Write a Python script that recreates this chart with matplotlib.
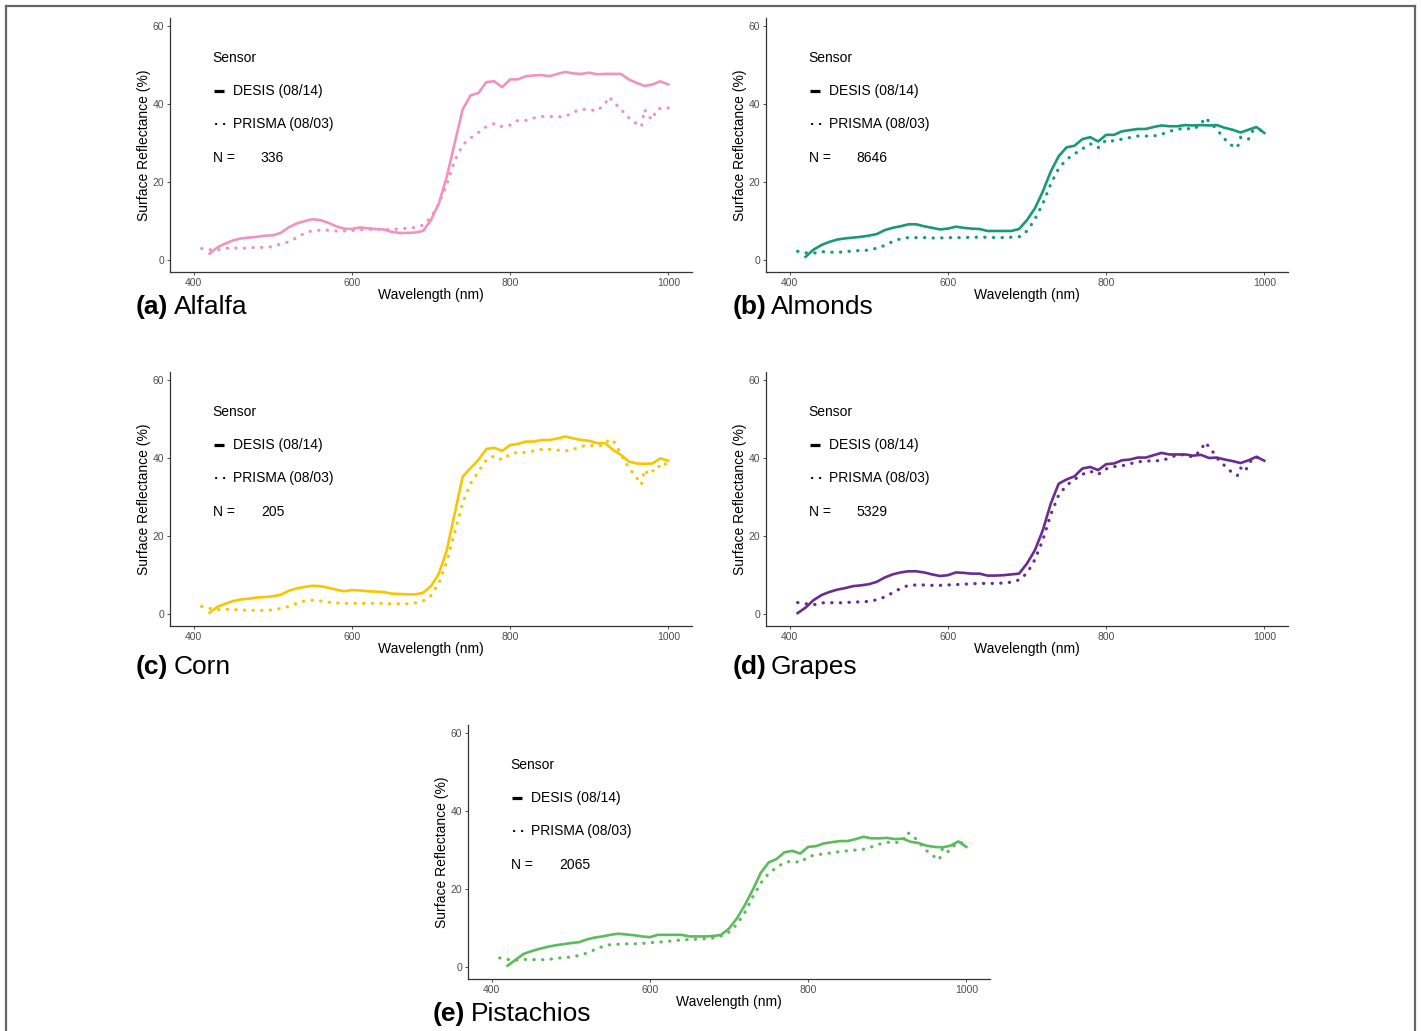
import matplotlib
matplotlib.use('Agg')
import matplotlib.pyplot as plt
from matplotlib.lines import Line2D

plt.rcParams['font.family'] = ['Liberation Sans', 'DejaVu Sans']

# Wavelength grids (nm)
DESIS_WL = list(range(420, 1001, 10))
GRAPES_DESIS_WL = [410] + DESIS_WL
PRISMA_WL = [410, 420, 430, 440, 450, 460, 470, 480, 490, 500, 510, 520, 530, 540,
             550, 560, 570, 580, 590, 600, 610, 620, 630, 640, 650, 660, 670, 680,
             690, 700, 710, 720, 730, 740, 750, 760, 770, 780, 790, 800, 810, 820,
             830, 840, 850, 860, 870, 880, 890, 900, 910, 920, 925, 932, 940, 950,
             958, 966, 970, 975, 980, 985, 993, 1000]

# Surface reflectance (%)
alfalfa_desis = [1.7, 3.3, 4.3, 5.1, 5.6, 5.8, 6.0, 6.3, 6.4, 7.0, 8.4, 9.4, 10.0, 10.5,
                 10.3, 9.6, 8.7, 8.1, 8.0, 8.4, 8.2, 8.0, 7.9, 7.3, 7.0, 7.0, 7.1, 7.5,
                 10.3, 14.6, 21.4, 30.0, 38.6, 42.2, 42.8, 45.6, 45.8, 44.3, 46.3, 46.3,
                 47.1, 47.3, 47.4, 47.1, 47.7, 48.2, 47.8, 47.7, 48.0, 47.6, 47.7, 47.7,
                 47.7, 46.3, 45.4, 44.6, 45.0, 45.8, 45.0]
alfalfa_prisma = [3.0, 2.7, 2.6, 3.1, 3.2, 3.0, 3.2, 3.3, 3.3, 3.5, 4.2, 4.7, 5.8, 6.9,
                  7.6, 7.7, 7.7, 7.5, 7.5, 7.6, 7.8, 7.9, 7.9, 7.9, 7.9, 8.0, 8.2, 8.4,
                  9.0, 11.0, 14.5, 19.5, 25.5, 29.5, 31.3, 32.7, 34.2, 35.0, 34.2, 34.6,
                  35.8, 35.8, 36.4, 36.8, 36.8, 36.7, 36.8, 37.9, 38.6, 38.6, 38.2, 40.0,
                  41.8, 40.3, 38.6, 36.5, 35.2, 34.2, 38.6, 36.8, 36.0, 38.6, 39.0, 39.0]

almonds_desis = [0.9, 2.7, 3.9, 4.7, 5.3, 5.6, 5.8, 6.0, 6.3, 6.7, 7.7, 8.3, 8.7, 9.2,
                 9.2, 8.7, 8.3, 7.9, 8.1, 8.6, 8.3, 8.1, 8.0, 7.5, 7.5, 7.5, 7.5, 8.0,
                 10.3, 13.3, 17.6, 22.7, 26.6, 28.9, 29.3, 31.0, 31.5, 30.4, 32.1, 32.1,
                 33.0, 33.3, 33.6, 33.6, 34.1, 34.5, 34.3, 34.3, 34.6, 34.5, 34.6, 34.5,
                 34.6, 33.9, 33.4, 32.7, 33.4, 34.1, 32.6]
almonds_prisma = [2.3, 1.9, 1.8, 2.2, 2.1, 2.0, 2.2, 2.4, 2.5, 2.6, 3.1, 3.8, 4.8, 5.5,
                  5.8, 5.8, 5.8, 5.7, 5.7, 5.8, 5.8, 5.8, 5.9, 5.9, 5.9, 5.8, 5.8, 5.9,
                  6.0, 7.5, 10.5, 14.5, 19.5, 23.5, 25.8, 27.2, 28.5, 29.8, 28.8, 30.8,
                  30.5, 31.0, 31.4, 31.8, 31.8, 31.8, 32.2, 33.0, 33.5, 33.8, 33.5, 34.8,
                  36.5, 35.2, 33.5, 31.0, 29.5, 28.8, 31.5, 31.0, 31.0, 33.0, 33.5, 32.8]

corn_desis = [0.4, 1.9, 2.7, 3.4, 3.8, 4.0, 4.3, 4.4, 4.6, 5.0, 6.0, 6.6, 7.0, 7.3,
              7.2, 6.8, 6.3, 5.9, 6.2, 6.1, 5.9, 5.8, 5.7, 5.3, 5.2, 5.1, 5.1, 5.5,
              7.2, 10.4, 16.4, 25.8, 35.2, 37.4, 39.5, 42.3, 42.6, 41.8, 43.3, 43.6,
              44.2, 44.2, 44.6, 44.6, 45.0, 45.5, 45.0, 44.6, 44.4, 43.8, 43.8, 42.1,
              40.8, 39.1, 38.6, 38.5, 38.6, 39.9, 39.3]
corn_prisma = [2.0, 1.5, 1.2, 1.3, 1.2, 1.1, 1.0, 1.0, 1.0, 1.1, 1.5, 2.0, 2.8, 3.4,
               3.6, 3.4, 3.1, 2.9, 2.8, 2.8, 2.8, 2.8, 2.8, 2.8, 2.7, 2.7, 2.7, 2.9,
               3.4, 4.8, 8.0, 13.5, 21.0, 28.5, 33.5, 36.5, 39.5, 40.5, 39.5, 41.0,
               41.5, 41.4, 41.8, 42.2, 42.2, 42.0, 41.8, 42.2, 43.0, 43.2, 43.0, 43.5,
               44.8, 44.0, 41.0, 37.5, 35.5, 33.2, 37.0, 35.8, 36.5, 38.0, 37.5, 39.5]

grapes_desis = [0.3, 1.7, 3.6, 4.9, 5.7, 6.3, 6.7, 7.2, 7.4, 7.7, 8.3, 9.4, 10.2, 10.7,
                11.0, 11.0, 10.7, 10.2, 9.8, 10.0, 10.7, 10.6, 10.4, 10.4, 9.9, 9.9, 10.0,
                10.2, 10.4, 13.0, 16.4, 21.5, 28.3, 33.4, 34.5, 35.3, 37.3, 37.7, 36.9,
                38.4, 38.6, 39.4, 39.6, 40.1, 40.1, 40.7, 41.3, 40.9, 40.9, 40.9, 40.6,
                40.8, 40.0, 40.1, 39.6, 39.2, 38.7, 39.4, 40.3, 39.3]
grapes_prisma = [3.0, 2.7, 2.4, 2.9, 3.0, 2.9, 3.0, 3.1, 3.2, 3.3, 3.7, 4.4, 5.5, 6.6,
                 7.4, 7.5, 7.5, 7.4, 7.4, 7.5, 7.6, 7.7, 7.8, 7.9, 7.9, 7.9, 8.0, 8.2,
                 8.8, 10.5, 14.0, 19.0, 25.5, 30.5, 33.0, 34.5, 35.8, 36.6, 35.8, 37.2,
                 37.8, 38.0, 38.5, 39.0, 39.2, 39.3, 39.3, 40.0, 40.8, 40.8, 40.2, 42.0,
                 44.0, 42.5, 40.0, 38.0, 36.5, 35.5, 37.5, 36.5, 38.0, 40.0, 40.2, 39.5]

pistachios_desis = [0.4, 1.9, 3.4, 4.1, 4.7, 5.2, 5.6, 5.9, 6.2, 6.4, 7.1, 7.6, 7.9, 8.3,
                    8.6, 8.4, 8.2, 7.9, 7.7, 8.3, 8.3, 8.3, 8.3, 7.9, 7.9, 7.9, 8.0, 8.3,
                    9.9, 12.5, 15.9, 19.8, 24.1, 26.8, 27.7, 29.4, 29.8, 29.1, 30.8, 31.0,
                    31.7, 32.0, 32.3, 32.3, 32.8, 33.4, 33.0, 33.0, 33.1, 32.8, 32.9, 32.1,
                    31.8, 31.1, 30.8, 30.7, 31.1, 32.2, 30.8]
pistachios_prisma = [2.4, 2.0, 1.8, 2.0, 2.0, 1.9, 2.0, 2.2, 2.5, 2.6, 3.0, 3.6, 4.5, 5.3,
                     5.8, 5.9, 6.0, 6.0, 6.1, 6.3, 6.4, 6.6, 6.8, 7.0, 7.1, 7.2, 7.3, 7.5,
                     8.0, 9.0, 11.0, 14.0, 18.0, 21.5, 24.0, 25.5, 26.8, 27.2, 26.8, 28.3,
                     28.8, 29.0, 29.3, 29.6, 29.8, 30.0, 30.2, 30.8, 31.5, 32.0, 31.8, 32.5,
                     34.5, 33.8, 32.0, 29.8, 28.5, 27.5, 30.5, 29.5, 29.8, 31.2, 32.0, 31.0]

crops = ['Alfalfa', 'Almonds', 'Corn', 'Grapes', 'Pistachios']
letters = ['a', 'b', 'c', 'd', 'e']
sample_sizes = [336, 8646, 205, 5329, 2065]
colors = ['#F093BF', '#17997A', '#F7C600', '#6A2C91', '#5CBB5A']
desis_wl = [DESIS_WL, DESIS_WL, DESIS_WL, GRAPES_DESIS_WL, DESIS_WL]
desis_vals = [alfalfa_desis, almonds_desis, corn_desis, grapes_desis, pistachios_desis]
prisma_vals = [alfalfa_prisma, almonds_prisma, corn_prisma, grapes_prisma, pistachios_prisma]

W, H = 1421, 1031
fig = plt.figure(figsize=(W / 100, H / 100), dpi=100)
fig.patch.set_facecolor('white')

# axes boxes in pixels: left, top of axes
boxes = [(170, 18), (766, 18), (170, 372), (766, 372), (468, 725)]
captions = [(136, 307), (733, 307), (136, 667), (733, 667), (433, 1014)]
AX_W, AX_H = 522, 254

for i in range(5):
    left, top = boxes[i]
    ax = fig.add_axes([left / W, 1 - (top + AX_H) / H, AX_W / W, AX_H / H])
    ax.plot(desis_wl[i], desis_vals[i], color=colors[i], linewidth=1.9,
            solid_joinstyle='round')
    ax.plot(PRISMA_WL, prisma_vals[i], color=colors[i], linewidth=2.3,
            linestyle=(0, (0.1, 2.6)), dash_capstyle='round')
    ax.set_xlim(370, 1030)
    ax.set_ylim(-3, 62)
    ax.set_xticks([400, 600, 800, 1000])
    ax.set_yticks([0, 20, 40, 60])
    for side in ['top', 'right']:
        ax.spines[side].set_visible(False)
    for side in ['left', 'bottom']:
        ax.spines[side].set_color('#333333')
        ax.spines[side].set_linewidth(0.9)
    ax.tick_params(labelsize=7.5, colors='#4D4D4D', length=2.5, width=0.7, pad=1.5)
    ax.set_xlabel('Wavelength (nm)', fontsize=10, labelpad=0.5)
    ax.set_ylabel('Surface Reflectance (%)', fontsize=10, labelpad=1)

    # legend drawn inside the panel
    ax.text(0.082, 0.843, 'Sensor', transform=ax.transAxes, fontsize=10,
            ha='left', va='center')
    ax.plot([0.085, 0.104], [0.713, 0.713], transform=ax.transAxes, color='black',
            linewidth=2.3, solid_capstyle='butt')
    ax.text(0.121, 0.713, 'DESIS (08/14)', transform=ax.transAxes, fontsize=10,
            ha='left', va='center')
    ax.plot([0.088, 0.106], [0.583, 0.583], transform=ax.transAxes, color='black',
            linewidth=1.6, linestyle=(0, (0.1, 3.5)), dash_capstyle='round')
    ax.text(0.121, 0.583, 'PRISMA (08/03)', transform=ax.transAxes, fontsize=10,
            ha='left', va='center')
    ax.text(0.082, 0.449, 'N =', transform=ax.transAxes, fontsize=10,
            ha='left', va='center')
    ax.text(0.174, 0.449, str(sample_sizes[i]), transform=ax.transAxes, fontsize=10,
            ha='left', va='center')

    cx, cy = captions[i]
    fig.text(cx / W, 1 - cy / H, f'({letters[i]})', fontsize=19, fontweight='bold',
             ha='left', va='center')
    fig.text((cx + 38) / W, 1 - cy / H, crops[i], fontsize=19,
             ha='left', va='center')

# grey frame around the figure (open at the bottom)
frame_kw = dict(color='#666666', linewidth=1.6, transform=fig.transFigure)
fig.add_artist(Line2D([6 / W, 6 / W], [0, 1 - 6 / H], **frame_kw))
fig.add_artist(Line2D([6 / W, 1415 / W], [1 - 6 / H, 1 - 6 / H], **frame_kw))
fig.add_artist(Line2D([1415 / W, 1415 / W], [0, 1 - 6 / H], **frame_kw))

fig.savefig('out.png', dpi=100, facecolor='white')
plt.close(fig)
